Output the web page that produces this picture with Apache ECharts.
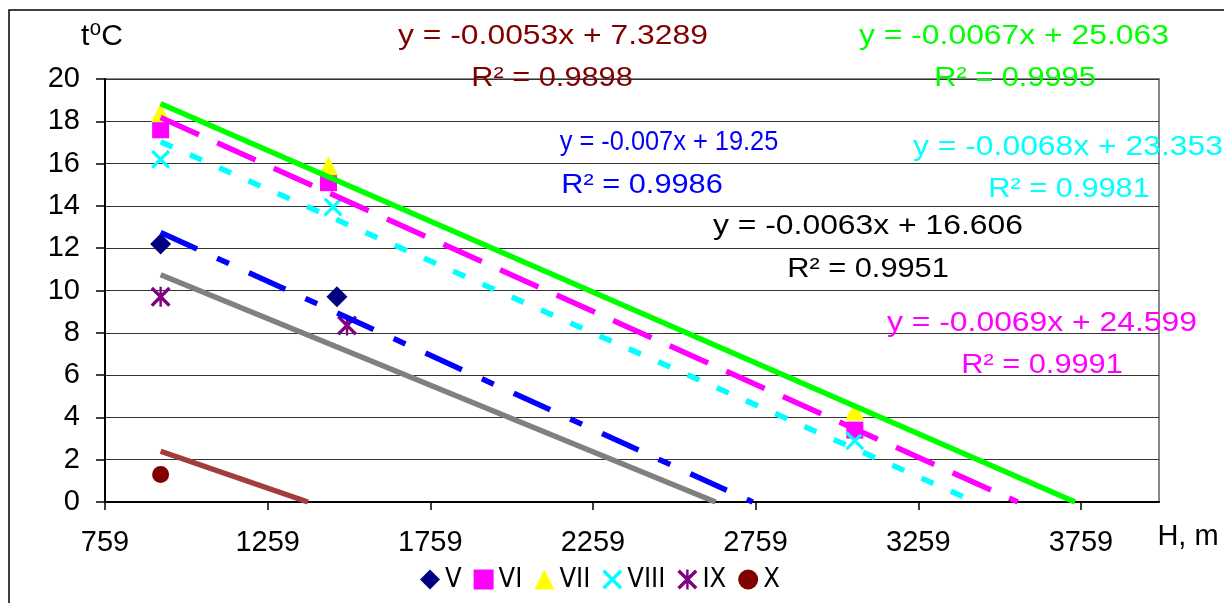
<!DOCTYPE html>
<html>
<head>
<meta charset="utf-8">
<script src="https://cdn.jsdelivr.net/npm/echarts@6/dist/echarts.min.js"></script>
<style>
html,body{margin:0;padding:0;background:#fff;}
#chart{width:1224px;height:603px;}
</style>
</head>
<body>
<div id="chart"></div>
<script>
// series names (months)
var names = ['V', 'VI', 'VII', 'VIII', 'IX', 'X'];
// measured points: H (m) and t (C)
var hV = [930, 1472];
var tV = [12.2, 9.7];
var hVI = [930, 1446, 3064];
var tVI = [17.6, 15.1, 3.4];
var hVII = [930, 1446, 3064];
var tVII = [18.4, 15.9, 4.3];
var hVIII = [930, 1460, 3064];
var tVIII = [16.2, 13.95, 2.9];
var hIX = [930, 1503];
var tIX = [9.7, 8.35];
var hX = [930];
var tX = [1.3];
// trend lines as printed on the chart
var slopes = [-0.007, -0.0069, -0.0067, -0.0068, -0.0063, -0.0053];
var intercepts = [19.25, 24.599, 25.063, 23.353, 16.606, 7.3289];
var r2 = [0.9986, 0.9991, 0.9995, 0.9981, 0.9951, 0.9898];
var trendStart = 930;
// axis ticks
var xTicks = [759, 1259, 1759, 2259, 2759, 3259, 3759];

var markColors = ['#000080', '#ff00ff', '#ffff00', '#00ffff', '#800080', '#800000'];
var lineColors = ['#0000ff', '#ff00ff', '#00ff00', '#00ffff', '#808080', '#a33c3c'];
var textColors = ['#0000ff', '#ff00ff', '#00ff00', '#00ffff', '#000000', '#800000'];
var dashes = [[40, 22, 13, 22], [42, 20], 'solid', [13, 19], 'solid', 'solid'];
var symbols = [
  'diamond', 'rect', 'triangle',
  'path://M0,1.2L1.2,0L5,3.8L8.8,0L10,1.2L6.2,5L10,8.8L8.8,10L5,6.2L1.2,10L0,8.8L3.8,5Z',
  'path://M0,1.2L1.2,0L5,3.8L8.8,0L10,1.2L6.2,5L10,8.8L8.8,10L5,6.2L1.2,10L0,8.8L3.8,5Z M4.4,0L5.6,0L5.6,10L4.4,10Z',
  'circle'
];
var symSizes = [21, 17, 19, 19, 20, 17];
var hs = [hV, hVI, hVII, hVIII, hIX, hX];
var ts = [tV, tVI, tVII, tVIII, tIX, tX];

// label places: [eq x, eq y, R2 x, R2 y, eq stretch]
var labelPos = [
  [669, 143, 642, 186, 0.94],
  [1042, 324, 1042, 366, 1.18],
  [1014, 37, 1015, 79, 1.18],
  [1068, 148, 1069, 190, 1.18],
  [868, 227, 868, 270, 1.18],
  [553, 37, 552, 79, 1.18]
];

var FONT = "'Liberation Sans', Arial, sans-serif";

var series = [];
names.forEach(function (n, i) {
  series.push({
    name: n,
    type: 'scatter',
    symbol: symbols[i],
    symbolSize: symSizes[i],
    itemStyle: {color: markColors[i], opacity: 1},
    data: hs[i].map(function (h, k) { return [h, ts[i][k]]; }),
    z: 2
  });
});
names.forEach(function (n, i) {
  var xEnd = -intercepts[i] / slopes[i];
  series.push({
    name: n + ' trend',
    type: 'line',
    showSymbol: false,
    symbol: 'none',
    silent: true,
    lineStyle: {color: lineColors[i], width: 5.5, type: dashes[i], cap: 'butt'},
    data: [[trendStart, slopes[i] * trendStart + intercepts[i]], [xEnd, 0]],
    z: 3
  });
});

var graphics = [
  {type: 'rect', shape: {x: 9, y: 10, width: 1300, height: 700}, style: {fill: 'none', stroke: '#000', lineWidth: 1.5}, silent: true},
  {type: 'text', x: 102, y: 37, style: {text: 't\u2070C', font: "30px 'Liberation Sans', 'DejaVu Sans', sans-serif", fill: '#000', textAlign: 'center', verticalAlign: 'middle', textVerticalAlign: 'middle'}},
  {type: 'text', x: 1188, y: 537, style: {text: 'H, m', font: '29px ' + FONT, fill: '#000', textAlign: 'center', verticalAlign: 'middle', textVerticalAlign: 'middle'}}
];
names.forEach(function (n, i) {
  var p = labelPos[i];
  var eq = 'y = ' + slopes[i] + 'x + ' + intercepts[i];
  var rr = 'R\u00b2 = ' + r2[i];
  [[eq, p[0], p[1], p[4]], [rr, p[2], p[3], 1.14]].forEach(function (t) {
    graphics.push({
      type: 'text', x: t[1], y: t[2], scaleX: t[3], z: 10,
      style: {text: t[0], font: '27px ' + FONT, fill: textColors[i], textAlign: 'center', verticalAlign: 'middle', textVerticalAlign: 'middle'}
    });
  });
});

var chart = echarts.init(document.getElementById('chart'));
chart.setOption({
  animation: false,
  backgroundColor: '#fff',
  grid: {left: 105, right: 65, top: 79, bottom: 101, show: true, borderColor: '#888', borderWidth: 2},
  legend: {
    data: names,
    left: 415,
    top: 561,
    itemWidth: 20,
    itemHeight: 20,
    itemGap: 12,
    textStyle: {fontSize: 27, color: '#000', fontFamily: "'Liberation Sans Narrow', 'DejaVu Sans Condensed', 'Liberation Sans', sans-serif"}
  },
  xAxis: {
    type: 'value',
    min: 759,
    max: 3999,
    axisLine: {show: true, lineStyle: {color: '#000', width: 2}},
    axisTick: {show: true, customValues: xTicks, length: 8, lineStyle: {color: '#000', width: 1.5}},
    axisLabel: {customValues: xTicks, fontSize: 29, color: '#000', fontFamily: FONT, margin: 26,
      formatter: function (v) { return String(v); }},
    splitLine: {show: false}
  },
  yAxis: {
    type: 'value',
    min: 0,
    max: 20,
    interval: 2,
    axisLine: {show: true, lineStyle: {color: '#000', width: 2}},
    axisTick: {show: true, length: 9, lineStyle: {color: '#000', width: 1.5}},
    axisLabel: {fontSize: 29, color: '#000', fontFamily: FONT, margin: 25},
    splitLine: {show: true, lineStyle: {color: '#333', width: 1.2}}
  },
  graphic: graphics,
  series: series
});
</script>
</body>
</html>
